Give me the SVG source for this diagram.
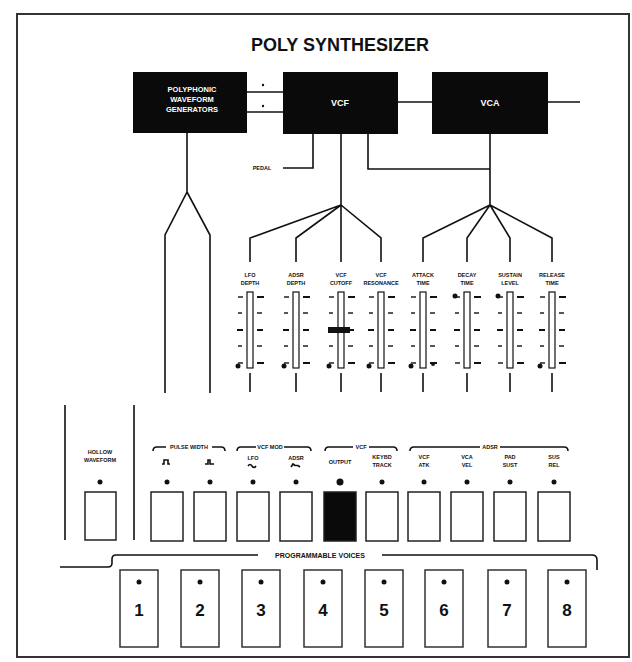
<svg xmlns="http://www.w3.org/2000/svg" width="632" height="662" viewBox="0 0 632 662">
<style>
text{font-family:"Liberation Sans",Arial,sans-serif;font-weight:bold;fill:#111;text-anchor:middle}
.ln{stroke:#111;stroke-width:1.6;fill:none}
.blk{fill:#0a0a0a}
.wt{fill:#fff;font-size:7.5px}
.wb{fill:#fff;font-size:9px}
.sl{font-size:5.5px}
.bl{font-size:5.5px}
.btn{fill:#fff;stroke:#222;stroke-width:1.5}
.vb{fill:#fff;stroke:#333;stroke-width:1.5}
.num{font-size:17px}
.tk{stroke:#222;stroke-width:1.3}
.tb{stroke:#111;stroke-width:2}
.dot{fill:#111}
</style>
<defs>
<g id="slider-base">
<rect x="-3" y="292" width="6" height="76" fill="#fff" stroke="#111" stroke-width="1.2"/>
<path class="tk" d="M-12,297H-7M-12,313H-8M-12,346H-8M-12,363H-7M7,313H12M7,346H12"/>
<path class="tb" d="M-13,330H-7M7,297H14M7,330H13M7,363H14"/>
</g>
</defs>
<rect x="17" y="14" width="612" height="643" fill="none" stroke="#333" stroke-width="2"/>
<g id="title"><text x="340" y="51" style="font-size:18px">POLY SYNTHESIZER</text></g>
<g id="connectors">
<path class="ln" d="M247,92H283" stroke-width="2"/>
<path class="ln" d="M247,112H283"/>
<circle cx="263" cy="85" r="1.2" class="dot"/>
<circle cx="263" cy="106" r="1.2" class="dot"/>
<path class="ln" d="M398,102H432M548,102H580"/>
<path class="ln" d="M187,133V192L165,235V393M187,192L210,235V393"/>
<path class="ln" d="M313,134V168H283"/>
<path class="ln" d="M341,134V205M368,134V169H490M490,134V205"/>
<path class="ln" d="M341,205L250,238V262M341,205L296,238V262M341,205V262M341,205L381,238V262"/>
<path class="ln" d="M490,205L423,238V262M490,205L467,238V262M490,205L510,238V262M490,205L552,238V262"/>
<path class="ln" d="M250,373V392M296,373V392M341,373V392M381,373V392M423,373V392M467,373V392M510,373V392M552,373V392"/>
<path class="ln" d="M65,405V540M134,405V540"/>
<path class="ln" d="M153,451Q153,447 157,447H166M212,447H221Q225,447 225,451"/>
<path class="ln" d="M237,451Q237,447 241,447H256M284,447H307Q311,447 311,451"/>
<path class="ln" d="M325,451Q325,447 329,447H353M369,447H393Q397,447 397,451"/>
<path class="ln" d="M410,451Q410,447 414,447H480M500,447H564Q568,447 568,451"/>
<path class="ln" d="M60,567H108Q112,567 112,563V559Q112,555 116,555H258M382,555H592Q597,555 597,560V570"/>
</g>
<g id="pwg"><rect class="blk" x="133" y="72" width="114" height="61"/>
<text class="wt" x="192" y="92">POLYPHONIC</text><text class="wt" x="192" y="102">WAVEFORM</text><text class="wt" x="192" y="112">GENERATORS</text></g>
<g id="vcf"><rect class="blk" x="283" y="72" width="115" height="62"/><text class="wb" x="340" y="106">VCF</text></g>
<g id="vca"><rect class="blk" x="432" y="72" width="116" height="62"/><text class="wb" x="490" y="106">VCA</text></g>
<g id="pedal"><text class="sl" x="262" y="170">PEDAL</text></g>
<g id="slider-lfo"><use href="#slider-base" x="250"/><circle class="dot" cx="238" cy="366" r="2.5"/><text class="sl" x="250" y="277">LFO</text><text class="sl" x="250" y="285">DEPTH</text></g>
<g id="slider-adsr"><use href="#slider-base" x="296"/><circle class="dot" cx="284" cy="366" r="2.5"/><text class="sl" x="296" y="277">ADSR</text><text class="sl" x="296" y="285">DEPTH</text></g>
<g id="slider-cutoff"><use href="#slider-base" x="341"/><circle class="dot" cx="329" cy="366" r="2.5"/><rect x="328" y="327" width="22" height="6" fill="#111"/><text class="sl" x="341" y="277">VCF</text><text class="sl" x="341" y="285">CUTOFF</text></g>
<g id="slider-res"><use href="#slider-base" x="381"/><circle class="dot" cx="369" cy="366" r="2.5"/><text class="sl" x="381" y="277">VCF</text><text class="sl" x="381" y="285">RESONANCE</text></g>
<g id="slider-attack"><use href="#slider-base" x="423"/><circle class="dot" cx="411" cy="366" r="2.5"/><circle class="dot" cx="433" cy="364" r="2"/><text class="sl" x="423" y="277">ATTACK</text><text class="sl" x="423" y="285">TIME</text></g>
<g id="slider-decay"><use href="#slider-base" x="467"/><circle class="dot" cx="455" cy="296" r="2.5"/><text class="sl" x="467" y="277">DECAY</text><text class="sl" x="467" y="285">TIME</text></g>
<g id="slider-sustain"><use href="#slider-base" x="510"/><circle class="dot" cx="498" cy="296" r="2.5"/><text class="sl" x="510" y="277">SUSTAIN</text><text class="sl" x="510" y="285">LEVEL</text></g>
<g id="slider-release"><use href="#slider-base" x="552"/><circle class="dot" cx="540" cy="366" r="2.5"/><text class="sl" x="552" y="277">RELEASE</text><text class="sl" x="552" y="285">TIME</text></g>
<g id="hollow"><text class="bl" x="100" y="454">HOLLOW</text><text class="bl" x="100" y="462">WAVEFORM</text><circle class="dot" cx="100" cy="482" r="2.5"/><rect class="btn" x="85" y="492" width="31" height="48"/></g>
<g id="bracket-labels"><text class="bl" x="189" y="449">PULSE WIDTH</text><text class="bl" x="270" y="449">VCF MOD</text><text class="bl" x="361" y="449">VCF</text><text class="bl" x="490" y="449">ADSR</text><text x="320" y="558" style="font-size:7px">PROGRAMMABLE VOICES</text></g>
<g id="btn-1"><path class="ln" stroke-width="1" d="M162,464h2v-4h4v4h2"/><circle class="dot" cx="167" cy="482" r="2.5"/><rect class="btn" x="151" y="492" width="32" height="49"/></g>
<g id="btn-2"><path class="ln" stroke-width="1" d="M205,464h3v-4h2v4h4"/><circle class="dot" cx="210" cy="482" r="2.5"/><rect class="btn" x="194" y="492" width="32" height="49"/></g>
<g id="btn-3"><text class="bl" x="253" y="460">LFO</text><path class="ln" stroke-width="0.8" d="M248,466q2,-3 4,0t4,0"/><circle class="dot" cx="253" cy="482" r="2.5"/><rect class="btn" x="237" y="492" width="32" height="49"/></g>
<g id="btn-4"><text class="bl" x="296" y="460">ADSR</text><path class="ln" stroke-width="0.8" d="M291,467l2,-3l2,1.5h3l2,1.5"/><circle class="dot" cx="296" cy="482" r="2.5"/><rect class="btn" x="280" y="492" width="32" height="49"/></g>
<g id="btn-5"><text class="bl" x="340" y="464">OUTPUT</text><circle class="dot" cx="340" cy="482" r="3.5"/><rect x="324" y="492" width="32" height="49" fill="#0a0a0a" stroke="#222" stroke-width="1.5"/></g>
<g id="btn-6"><text class="bl" x="382" y="459">KEYBD</text><text class="bl" x="382" y="467">TRACK</text><circle class="dot" cx="382" cy="482" r="2.5"/><rect class="btn" x="366" y="492" width="32" height="49"/></g>
<g id="btn-7"><text class="bl" x="424" y="459">VCF</text><text class="bl" x="424" y="467">ATK</text><circle class="dot" cx="424" cy="482" r="2.5"/><rect class="btn" x="408" y="492" width="32" height="49"/></g>
<g id="btn-8"><text class="bl" x="467" y="459">VCA</text><text class="bl" x="467" y="467">VEL</text><circle class="dot" cx="467" cy="482" r="2.5"/><rect class="btn" x="451" y="492" width="32" height="49"/></g>
<g id="btn-9"><text class="bl" x="510" y="459">PAD</text><text class="bl" x="510" y="467">SUST</text><circle class="dot" cx="510" cy="482" r="2.5"/><rect class="btn" x="494" y="492" width="32" height="49"/></g>
<g id="btn-10"><text class="bl" x="554" y="459">SUS</text><text class="bl" x="554" y="467">REL</text><circle class="dot" cx="554" cy="482" r="2.5"/><rect class="btn" x="538" y="492" width="32" height="49"/></g>
<g id="voice-1"><rect class="vb" x="120" y="570" width="38" height="77"/><circle class="dot" cx="139" cy="582" r="2.5"/><text class="num" x="139" y="616">1</text></g>
<g id="voice-2"><rect class="vb" x="181" y="570" width="38" height="77"/><circle class="dot" cx="200" cy="582" r="2.5"/><text class="num" x="200" y="616">2</text></g>
<g id="voice-3"><rect class="vb" x="242" y="570" width="38" height="77"/><circle class="dot" cx="261" cy="582" r="2.5"/><text class="num" x="261" y="616">3</text></g>
<g id="voice-4"><rect class="vb" x="304" y="570" width="38" height="77"/><circle class="dot" cx="323" cy="582" r="2.5"/><text class="num" x="323" y="616">4</text></g>
<g id="voice-5"><rect class="vb" x="365" y="570" width="38" height="77"/><circle class="dot" cx="384" cy="582" r="2.5"/><text class="num" x="384" y="616">5</text></g>
<g id="voice-6"><rect class="vb" x="425" y="570" width="38" height="77"/><circle class="dot" cx="444" cy="582" r="2.5"/><text class="num" x="444" y="616">6</text></g>
<g id="voice-7"><rect class="vb" x="488" y="570" width="38" height="77"/><circle class="dot" cx="507" cy="582" r="2.5"/><text class="num" x="507" y="616">7</text></g>
<g id="voice-8"><rect class="vb" x="548" y="570" width="38" height="77"/><circle class="dot" cx="567" cy="582" r="2.5"/><text class="num" x="567" y="616">8</text></g>
</svg>
